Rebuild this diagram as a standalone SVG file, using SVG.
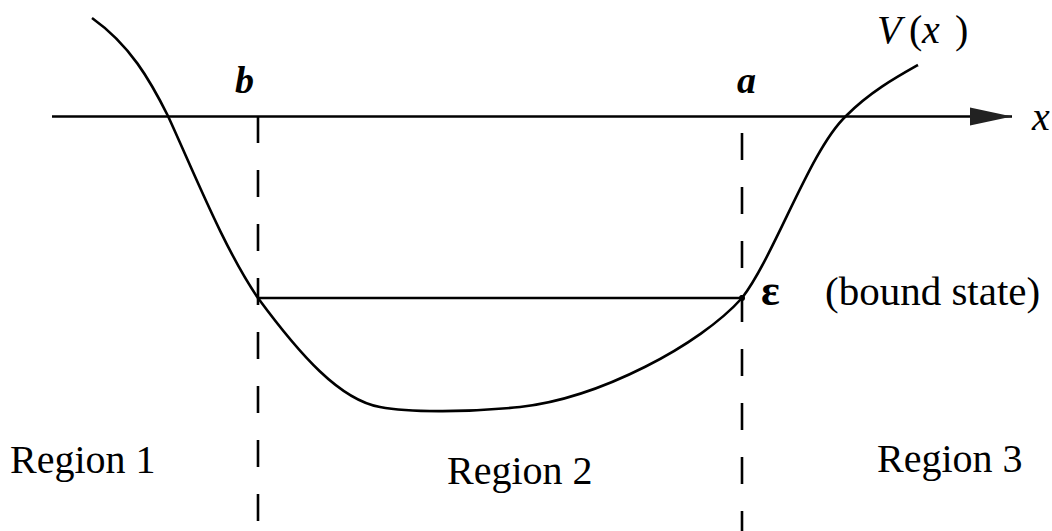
<svg xmlns="http://www.w3.org/2000/svg" width="1052" height="531" viewBox="0 0 1052 531">
  <style>
    .ln { fill: none; stroke: #000; stroke-width: 2.6; }
    .dash { fill: none; stroke: #000; stroke-width: 2.6; stroke-dasharray: 27 27; }
    .t { font-family: "Liberation Serif", "Times New Roman", serif; fill: #000; }
    .it { font-style: italic; }
  </style>
  <defs>
    <marker id="arrow" markerUnits="userSpaceOnUse" markerWidth="44" markerHeight="22" refX="42" refY="11" orient="auto">
      <path d="M0,2 L42,11 L0,20 Z" fill="#222"/>
    </marker>
  </defs>
  <g id="connectors">
    <path id="x-axis" class="ln" d="M52,116.5 L1012,116.5" marker-end="url(#arrow)"/>
    <path id="dash-b" class="dash" d="M258,116 L258,531"/>
    <path id="dash-a" class="dash" d="M742,133 L742,531"/>
    <path id="energy-level" class="ln" d="M258,298 L742,298"/>
  </g>
  <g id="potential">
    <path class="ln" d="M92,18 C130,45 150,80 168,116 C195,175 225,250 258,298 C300,355 340,400 380,407 C410,413 470,412 520,407 C600,398 700,345 742,298 C775,255 810,150 846,116 C870,92 895,78 918,65"/>
    <circle cx="742" cy="298" r="3" fill="#000"/>
  </g>
  <g id="label-V">
    <text class="t" y="43" font-size="40"><tspan class="it" x="877">V</tspan><tspan x="909">(</tspan><tspan class="it" x="922">x</tspan><tspan x="955">)</tspan></text>
  </g>
  <g id="label-b"><text class="t it" x="235" y="93" font-size="38" font-weight="bold">b</text></g>
  <g id="label-a"><text class="t it" x="737" y="93" font-size="38" font-weight="bold">a</text></g>
  <g id="label-x"><text class="t it" x="1032" y="130" font-size="40">x</text></g>
  <g id="label-eps"><text class="t" x="761" y="305" font-size="44" font-weight="bold">ε</text></g>
  <g id="label-bound"><text class="t" x="825" y="305" font-size="41">(bound state)</text></g>
  <g id="region-1"><text class="t" x="10" y="473" font-size="40">Region 1</text></g>
  <g id="region-2"><text class="t" x="447" y="484" font-size="40">Region 2</text></g>
  <g id="region-3"><text class="t" x="877" y="472" font-size="40">Region 3</text></g>
</svg>
